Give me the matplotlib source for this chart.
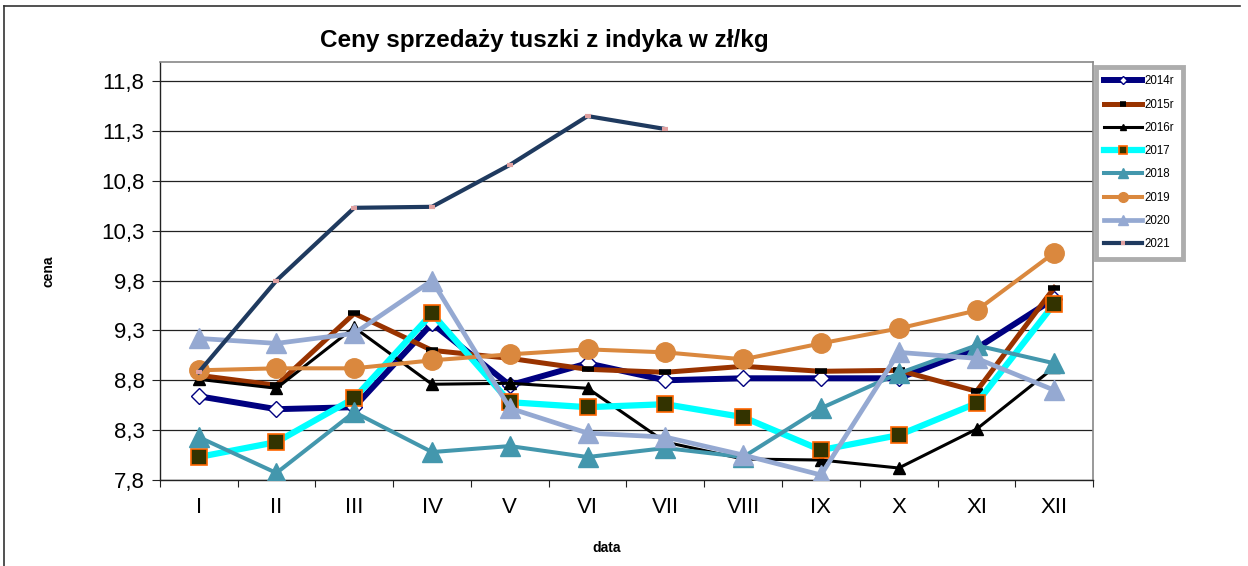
import numpy as np
import matplotlib
matplotlib.use("Agg")
import matplotlib.pyplot as plt
from matplotlib.lines import Line2D

plt.rcParams["font.family"] = ["Liberation Sans", "DejaVu Sans"]

# ─────────────────────────────
# Data
# ─────────────────────────────
months = ["I", "II", "III", "IV", "V", "VI", "VII", "VIII", "IX", "X", "XI", "XII"]
y_ticks = [7.8, 8.3, 8.8, 9.3, 9.8, 10.3, 10.8, 11.3, 11.8]
y_labels = ["7,8", "8,3", "8,8", "9,3", "9,8", "10,3", "10,8", "11,3", "11,8"]

p2014 = [8.64, 8.51, 8.53, 9.37, 8.75, 8.97, 8.80, 8.82, 8.82, 8.82, 9.12, 9.62]
p2015 = [8.85, 8.75, 9.47, 9.10, 9.02, 8.91, 8.88, 8.94, 8.89, 8.90, 8.69, 9.73]
p2016 = [8.81, 8.72, 9.33, 8.76, 8.77, 8.72, 8.18, 8.01, 8.00, 7.92, 8.31, 8.93]
p2017 = [8.03, 8.18, 8.62, 9.47, 8.58, 8.53, 8.56, 8.43, 8.10, 8.25, 8.57, 9.57]
p2018 = [8.23, 7.87, 8.48, 8.08, 8.14, 8.03, 8.12, 8.03, 8.52, 8.87, 9.15, 8.97]
p2019 = [8.90, 8.92, 8.92, 9.00, 9.06, 9.11, 9.08, 9.01, 9.17, 9.32, 9.50, 10.08]
p2020 = [9.22, 9.17, 9.27, 9.80, 8.52, 8.27, 8.23, 8.05, 7.85, 9.08, 9.02, 8.70]
p2021 = [8.88, 9.80, 10.53, 10.54, 10.96, 11.45, 11.32]

x = np.arange(len(months)) + 0.5

fig = plt.figure(figsize=(12.48, 5.66), dpi=100)
ax = fig.add_axes([0.128, 0.152, 0.748, 0.738])

# gridlines first
for t in y_ticks:
    ax.axhline(t, color="#222222", lw=0.9, zorder=0)

ax.plot(x, p2014, color="#000080", lw=4.3, marker="D", ms=8,
        mfc="white", mec="#000080", mew=1.0, label="2014r", zorder=2)
ax.plot(x, p2015, color="#993300", lw=3.6, marker="_", ms=9,
        mec="black", mew=4, label="2015r", zorder=3)
ax.plot(x, p2016, color="black", lw=2.2, marker="^", ms=9,
        mfc="black", mec="black", label="2016r", zorder=4)
ax.plot(x, p2017, color="#00FFFF", lw=4.5, marker="s", ms=12,
        mfc="#333300", mec="#FF6600", mew=1.2, label="2017", zorder=5)
ax.plot(x, p2018, color="#4397AD", lw=2.9, marker="^", ms=15,
        mfc="#4397AD", mec="#4397AD", label="2018", zorder=6)
ax.plot(x, p2019, color="#DA883E", lw=2.9, marker="o", ms=14,
        mfc="#DA883E", mec="#DA883E", label="2019", zorder=7)
ax.plot(x, p2020, color="#95A9D2", lw=3.4, marker="^", ms=15,
        mfc="#95A9D2", mec="#95A9D2", label="2020", zorder=8)
ax.plot(x[:len(p2021)], p2021, color="#1F3A5F", lw=3.0, marker="_", ms=5,
        mec="#E0A0A0", mew=3, label="2021", zorder=9)

ax.set_xlim(0, 12)
ax.set_ylim(7.8, 11.99)
ax.set_yticks(y_ticks)
ax.set_yticklabels(y_labels, fontsize=16)
ax.set_xticks(np.arange(13))
ax.set_xticklabels([])
ax.set_xticks(x, minor=True)
ax.set_xticklabels(months, minor=True, fontsize=16)
ax.tick_params(axis="x", which="minor", length=0, pad=12)
ax.tick_params(axis="x", which="major", length=5, direction="out", color="#222222")
ax.tick_params(axis="y", length=6, direction="out", color="#222222", pad=5)

for side in ["top", "right"]:
    ax.spines[side].set_color("#888888")
    ax.spines[side].set_linewidth(1.2)
for side in ["left", "bottom"]:
    ax.spines[side].set_color("#222222")
    ax.spines[side].set_linewidth(1.0)

ax.set_ylabel("cena", fontsize=10, fontweight="bold")
ax.yaxis.set_label_coords(-0.112, 0.5)
ax.set_xlabel("data", fontsize=10, fontweight="bold")
ax.xaxis.set_label_coords(0.479, -0.145)

fig.text(0.436, 0.929, "Ceny sprzedaży tuszki z indyka w zł/kg",
         fontsize=17.5, fontweight="bold", ha="center", va="center")

leg = ax.legend(loc="upper left", bbox_to_anchor=(1.0, 0.995), fontsize=8.3,
                frameon=True, fancybox=False, handlelength=3.3,
                handletextpad=0.2, labelspacing=0.98, borderpad=0.75,
                borderaxespad=0.2, markerscale=0.5)
leg.get_frame().set_edgecolor("#999999")
leg.get_frame().set_linewidth(3.5)

# outer chart border (only left and top visible in reference)
fig.add_artist(Line2D([4 / 1248, 4 / 1248], [0, 1 - 6 / 566],
                      transform=fig.transFigure, color="#333333", lw=1.2))
fig.add_artist(Line2D([4 / 1248, 1240 / 1248], [1 - 6 / 566, 1 - 6 / 566],
                      transform=fig.transFigure, color="#333333", lw=1.2))

fig.savefig("out.png", dpi=100)
